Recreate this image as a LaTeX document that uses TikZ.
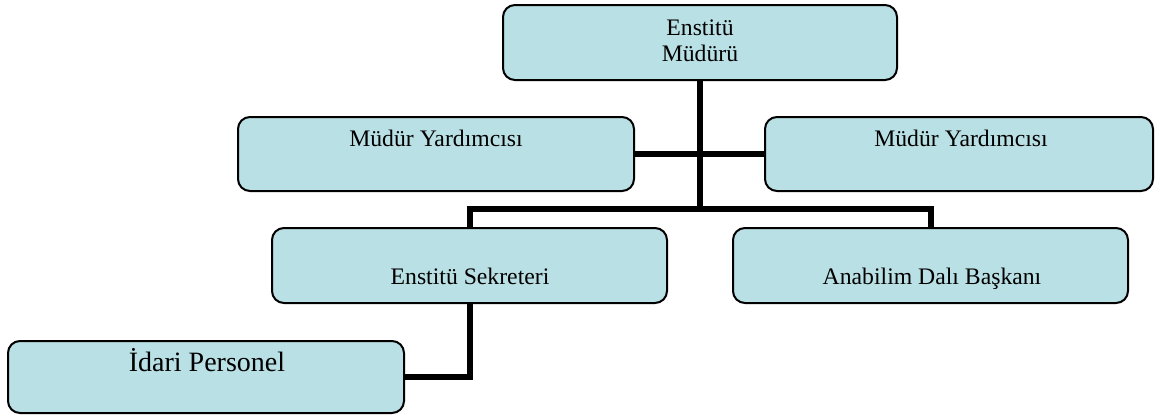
\documentclass[tikz,border=0pt]{standalone}
\usepackage{fontspec}
\setmainfont{Liberation Serif}
\usetikzlibrary{backgrounds}
\definecolor{boxfill}{RGB}{185,224,228}
\tikzset{
  orgbox/.style={draw=black, line width=2pt, fill=boxfill, rounded corners=12pt, inner sep=0pt, outer sep=0pt},
  txt/.style={anchor=base, inner sep=0pt, font=\fontsize{23.7}{26}\selectfont},
  bigtxt/.style={anchor=base, inner sep=0pt, font=\fontsize{28}{32}\selectfont},
  conn/.style={draw=black, line width=6pt}
}
\begin{document}
\begin{tikzpicture}[x=1pt, y=-1pt]
\useasboundingbox (0,0) rectangle (1155,416);
\node[orgbox, minimum width=394pt, minimum height=75pt] (top) at (700,42.5) {};
\node[orgbox, minimum width=396pt, minimum height=74pt] (myl) at (436,154) {};
\node[orgbox, minimum width=388pt, minimum height=74pt] (myr) at (959,154) {};
\node[orgbox, minimum width=395pt, minimum height=75pt] (sek) at (469.5,265.5) {};
\node[orgbox, minimum width=395pt, minimum height=75pt] (abd) at (930.5,265.5) {};
\node[orgbox, minimum width=396pt, minimum height=72pt] (idari) at (206,377) {};

\node[txt] (t1) at (700,35) {Enstitü};
\node[txt] (t2) at (700,61) {Müdürü};
\node[txt] (t3) at (436,146) {Müdür Yardımcısı};
\node[txt] (t4) at (961,146) {Müdür Yardımcısı};
\node[txt] (t5) at (470,284) {Enstitü Sekreteri};
\node[txt] (t6) at (932,284) {Anabilim Dalı Başkanı};
\node[bigtxt] (t7) at (207,371) {İdari Personel};

\coordinate (hub) at (700,209);
\begin{scope}[on background layer]
\draw[conn] (top.south) -- (hub);
\draw[conn] (myl.east) -- (myr.west);
\draw[conn] (sek.north) |- (hub) -| (abd.north);
\draw[conn] (sek.south) |- (idari.east);
\end{scope}
\end{tikzpicture}
\end{document}
